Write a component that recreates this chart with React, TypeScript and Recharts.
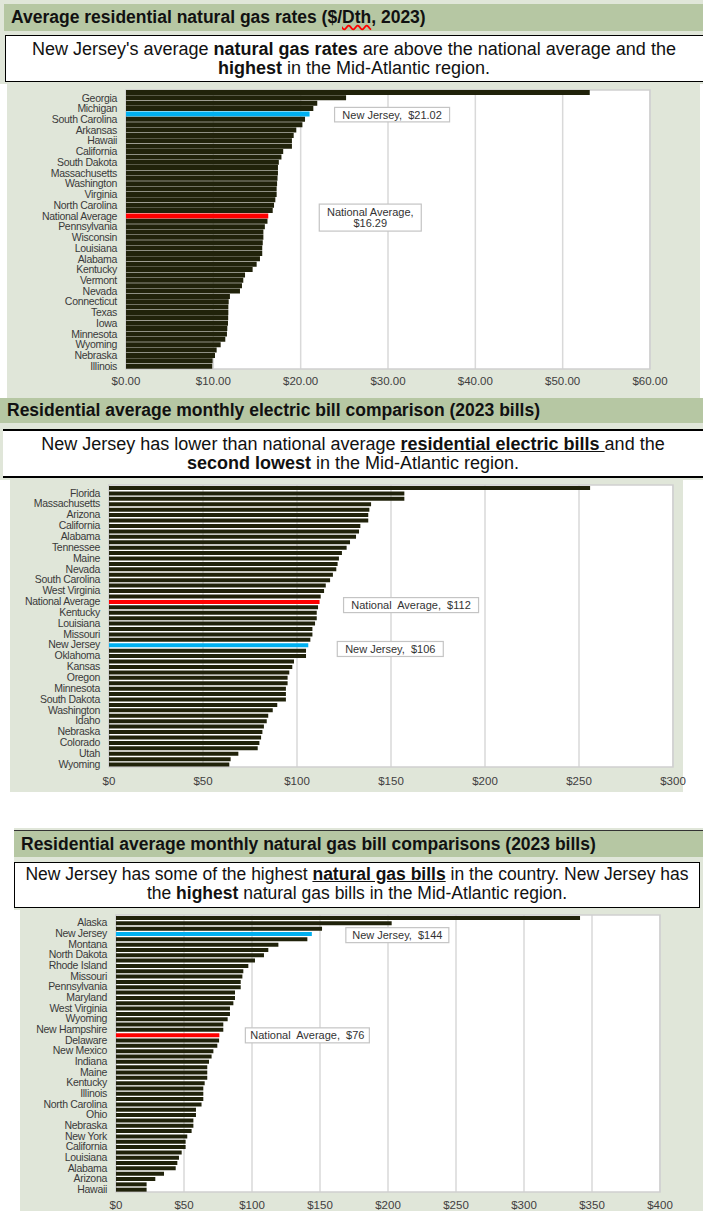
import React from 'react';
import { BarChart, Bar, XAxis, YAxis, CartesianGrid, Cell, ReferenceArea, ReferenceDot } from 'recharts';

const FONT = '"Liberation Sans", Arial, sans-serif';
const BAR = '#20220a';
const NJ_BLUE = '#00b0f0';
const AVG_RED = '#ff0000';
const HEADER = '#b6c7a3';
const PANEL = '#e0e6d9';

// Chart 1: average residential natural gas rates ($/Dth)
const gasRateStates = [
  'Florida', 'Georgia', 'Maine', 'Michigan', 'New Jersey', 'South Carolina', 'Rhode Island', 'Arkansas',
  'Delaware', 'Hawaii', 'New York', 'California', 'Maryland', 'South Dakota', 'District of Columbia',
  'Massachusetts', 'Arizona', 'Washington', 'New Hampshire', 'Virginia', 'Alaska', 'North Carolina',
  'Missouri', 'National Average', 'Tennessee', 'Pennsylvania', 'Oregon', 'Wisconsin', 'Mississippi',
  'Louisiana', 'West Virginia', 'Alabama', 'Indiana', 'Kentucky', 'New Mexico', 'Vermont', 'Ohio',
  'Nevada', 'Kansas', 'Connecticut', 'Utah', 'Texas', 'Oklahoma', 'Iowa', 'Montana', 'Minnesota',
  'Colorado', 'Wyoming', 'Idaho', 'Nebraska', 'North Dakota', 'Illinois',
];
const gasRateValues = [
  53.1, 25.2, 21.9, 21.45, 21.02, 20.5, 20.2, 19.5, 19.2, 19.0, 19.0, 18.0, 17.8, 17.5, 17.4, 17.4,
  17.35, 17.3, 17.25, 17.25, 17.1, 16.95, 16.8, 16.29, 16.2, 15.9, 15.73, 15.73, 15.66, 15.6, 15.6,
  15.34, 14.96, 14.5, 13.63, 13.43, 13.28, 13.05, 11.9, 11.76, 11.72, 11.72, 11.7, 11.68, 11.6, 11.56,
  11.37, 10.84, 10.38, 10.19, 9.92, 9.88,
];
const gasRateTicks = [0, 10, 20, 30, 40, 50, 60];

// Chart 2: residential average monthly electric bill
const elecStates = [
  'Hawaii', 'Florida', 'Connecticut', 'Massachusetts', 'Rhode Island', 'Arizona', 'New Hampshire',
  'California', 'Alaska', 'Alabama', 'Georgia', 'Tennessee', 'Texas', 'Maine', 'Mississippi', 'Nevada',
  'Maryland', 'South Carolina', 'North Carolina', 'West Virginia', 'Delaware', 'National Average',
  'Arkansas', 'Kentucky', 'Virginia', 'Louisiana', 'Pennsylvania', 'Missouri', 'Indiana', 'New Jersey',
  'Ohio', 'Oklahoma', 'Michigan', 'Kansas', 'Vermont', 'Oregon', 'North Dakota', 'Minnesota', 'Iowa',
  'South Dakota', 'Montana', 'Washington', 'Wisconsin', 'Idaho', 'Illinois', 'Nebraska',
  'District of Columbia', 'Colorado', 'New York', 'Utah', 'New Mexico', 'Wyoming',
];
const elecValues = [
  255.9, 157.1, 157.1, 139.4, 138.5, 137.9, 137.9, 133.7, 133.0, 131.4, 128.2, 126.4, 123.9, 122.3,
  121.6, 120.9, 119.1, 117.6, 115.3, 114.4, 112.6, 112, 111.2, 110.5, 110.5, 109.6, 108.2, 108.2,
  107.1, 106, 104.8, 104.8, 98.4, 97.5, 95.9, 95.0, 95.0, 94.1, 94.1, 94.1, 89.5, 87.1, 84.7, 83.9,
  82.4, 81.6, 80.9, 80.0, 79.1, 68.8, 64.7, 64.0,
];
const elecTicks = [0, 50, 100, 150, 200, 250, 300];

// Chart 3: residential average monthly natural gas bill
const gasBillStates = [
  'District of Columbia', 'Alaska', 'Massachusetts', 'New Jersey', 'Connecticut', 'Montana', 'Vermont',
  'North Dakota', 'Virginia', 'Rhode Island', 'Georgia', 'Missouri', 'Michigan', 'Pennsylvania',
  'Wisconsin', 'Maryland', 'Minnesota', 'West Virginia', 'Iowa', 'Wyoming', 'South Dakota',
  'New Hampshire', 'National Average', 'Delaware', 'Kansas', 'New Mexico', 'Colorado', 'Indiana', 'Utah',
  'Maine', 'Oregon', 'Kentucky', 'Idaho', 'Illinois', 'Washington', 'North Carolina', 'Arkansas', 'Ohio',
  'Nevada', 'Nebraska', 'Oklahoma', 'New York', 'Tennessee', 'California', 'South Carolina', 'Louisiana',
  'Mississippi', 'Alabama', 'Texas', 'Arizona', 'Florida', 'Hawaii',
];
const gasBillValues = [
  341.2, 202.7, 151.5, 144, 140.7, 119.4, 112.0, 108.8, 102.2, 97.3, 93.6, 92.9, 91.7, 91.7, 87.5,
  87.5, 86.3, 83.8, 83.8, 82.1, 78.9, 78.9, 76, 75.8, 74.5, 71.6, 70.3, 68.4, 67.1, 67.1, 67.1, 65.2,
  64.2, 64.2, 64.2, 62.9, 58.8, 58.8, 56.9, 56.9, 55.6, 52.4, 51.2, 51.2, 48.3, 46.3, 45.1, 43.9,
  35.3, 28.9, 22.5, 22.5,
];
const gasBillTicks = [0, 50, 100, 150, 200, 250, 300, 350, 400];

const Callout = ({ cx, cy, dx, dy, w, h, lines }: any) => {
  const x = cx + dx;
  const y = cy + dy - h / 2;
  return (
    <g>
      <rect x={x} y={y} width={w} height={h} fill="#fff" stroke="#c4c4c4" strokeWidth={1.2} />
      {lines.map((t: string, i: number) => (
        <text
          key={i}
          x={x + w / 2}
          y={y + h / 2 + (i - (lines.length - 1) / 2) * 11.5}
          textAnchor="middle"
          dominantBaseline="central"
          fontSize={11}
          fontFamily={FONT}
          fill="#333"
          style={{ whiteSpace: 'pre' }}
        >
          {t}
        </text>
      ))}
    </g>
  );
};

// every other state name is shown, like the source chart
const StateTick = ({ x, y, payload, index }: any) =>
  index % 2 === 1 ? (
    <text x={x} y={y} dy={3.5} textAnchor="end" fontSize={10.5} fontFamily={FONT} fill="#3a3a3a" letterSpacing={-0.3}>
      {payload.value}
    </text>
  ) : null;

const barColor = (name: string) =>
  name === 'New Jersey' ? NJ_BLUE : name === 'National Average' ? AVG_RED : BAR;

const Panel = ({ left, top, width, height, names, values, ticks, fmt, yWidth, margin, xHeight, tickGap, barSize, callouts }: any) => {
  const rows = names.map((name: string, i: number) => ({ name, value: values[i] }));
  const max = ticks[ticks.length - 1];
  return (
    <div style={{ position: 'absolute', left, top }}>
      <BarChart width={width} height={height} data={rows} layout="vertical" margin={margin}>
        <CartesianGrid horizontal={false} stroke="#d9d9d9" strokeWidth={1.5} fill="#fff" fillOpacity={1} />
        <ReferenceArea x1={0} x2={max} fill="none" stroke="#cfcfcf" strokeWidth={1.5} />
        <XAxis
          type="number"
          domain={[0, max]}
          ticks={ticks}
          tickFormatter={fmt}
          axisLine={false}
          tickLine={false}
          tickSize={0}
          tickMargin={tickGap}
          height={xHeight}
          interval={0}
          tick={{ fontSize: 11.5, fill: '#404040', fontFamily: FONT }}
        />
        <YAxis
          type="category"
          dataKey="name"
          width={yWidth}
          axisLine={false}
          tickLine={false}
          tickSize={0}
          tickMargin={9}
          interval={0}
          tick={<StateTick />}
        />
        <Bar dataKey="value" isAnimationActive={false} barSize={barSize}>
          {rows.map((r: any) => (
            <Cell key={r.name} fill={barColor(r.name)} />
          ))}
        </Bar>
        {callouts.map((c: any) => (
          <ReferenceDot
            key={c.name}
            x={values[names.indexOf(c.name)]}
            y={c.name}
            r={1}
            ifOverflow="visible"
            shape={(p: any) => <Callout cx={p.cx} cy={p.cy} {...c} />}
          />
        ))}
      </BarChart>
    </div>
  );
};

const headerStyle = (left: number, top: number, height: number): React.CSSProperties => ({
  position: 'absolute',
  left,
  top,
  width: 703 - left,
  height,
  background: HEADER,
  fontWeight: 'bold',
  fontSize: 17.5,
  lineHeight: `${height}px`,
  paddingLeft: 7,
  boxSizing: 'border-box',
  color: '#111',
  whiteSpace: 'nowrap',
});

const boxText: React.CSSProperties = {
  position: 'absolute',
  background: '#fff',
  textAlign: 'center',
  fontSize: 18,
  lineHeight: '19px',
  color: '#111',
  boxSizing: 'border-box',
  paddingTop: 4,
  whiteSpace: 'nowrap',
};

export default function App() {
  return (
    <div style={{ position: 'absolute', left: 0, top: 0, width: 703, height: 1211, overflow: 'hidden', background: '#fff', fontFamily: FONT }}>
      {/* panel 1 */}
      <div style={{ position: 'absolute', left: 0, top: 0, width: 703, height: 84, background: PANEL }} />
      <div style={headerStyle(4, 4, 27)}>
        Average residential natural gas rates ($/<span style={{ textDecoration: 'underline wavy red' }}>Dth</span>, 2023)
      </div>
      <div style={{ ...boxText, left: 5, top: 35, width: 710, height: 47, border: '1.5px solid #000', paddingRight: 12 }}>
        New Jersey's average <b>natural gas rates</b> are above the national average and the
        <br />
        <b>highest</b> in the Mid-Atlantic region.
      </div>
      <div style={{ position: 'absolute', left: 7, top: 84, width: 693, height: 314, background: PANEL }} />
      <Panel
        left={7}
        top={84}
        width={693}
        height={314}
        names={gasRateStates}
        values={gasRateValues}
        ticks={gasRateTicks}
        fmt={(v: number) => `$${v.toFixed(2)}`}
        yWidth={119}
        margin={{ top: 6, right: 50, left: 0, bottom: 0 }}
        xHeight={29}
        tickGap={8}
        barSize={5}
        callouts={[
          { name: 'New Jersey', dx: 25, dy: 0.5, w: 115, h: 14.5, lines: ['New Jersey,  $21.02'] },
          { name: 'National Average', dx: 51, dy: 1.5, w: 102, h: 27, lines: ['National Average,', '$16.29'] },
        ]}
      />

      {/* panel 2 */}
      <div style={{ position: 'absolute', left: 0, top: 398, width: 703, height: 82, background: PANEL }} />
      <div style={headerStyle(0, 398, 25)}>Residential average monthly electric bill comparison (2023 bills)</div>
      <div style={{ ...boxText, left: 3, top: 429, width: 700, height: 49, borderTop: '2px solid #000', borderBottom: '2px solid #000' }}>
        New Jersey has lower than national average <b><u>residential electric bills </u></b> and the
        <br />
        <b>second lowest</b> in the Mid-Atlantic region.
      </div>
      <div style={{ position: 'absolute', left: 10, top: 478, width: 673, height: 314, background: PANEL }} />
      <Panel
        left={10}
        top={478}
        width={693}
        height={314}
        names={elecStates}
        values={elecValues}
        ticks={elecTicks}
        fmt={(v: number) => `$${v}`}
        yWidth={99}
        margin={{ top: 7, right: 30, left: 0, bottom: 0 }}
        xHeight={25}
        tickGap={10}
        barSize={4}
        callouts={[
          { name: 'National Average', dx: 24, dy: 3.5, w: 135, h: 15, lines: ['National  Average,  $112'] },
          { name: 'New Jersey', dx: 29, dy: 4, w: 106, h: 15, lines: ['New Jersey,  $106'] },
        ]}
      />

      {/* panel 3 */}
      <div style={{ position: 'absolute', left: 14, top: 828, width: 689, height: 82, background: PANEL }} />
      <div style={{ ...headerStyle(14, 830, 27), borderTop: '1.5px solid #333' }}>
        Residential average monthly natural gas bill comparisons (2023 bills)
      </div>
      <div style={{ ...boxText, left: 14, top: 862, width: 686, height: 46, border: '1.5px solid #000', paddingTop: 2, fontSize: 17.5 }}>
        New Jersey has some of the highest <b><u>natural gas bills</u></b> in the country. New Jersey has
        <br />
        the <b>highest</b> natural gas bills in the Mid-Atlantic region.
      </div>
      <div style={{ position: 'absolute', left: 20, top: 908, width: 683, height: 303, background: PANEL }} />
      <Panel
        left={20}
        top={910}
        width={683}
        height={301}
        names={gasBillStates}
        values={gasBillValues}
        ticks={gasBillTicks}
        fmt={(v: number) => `$${v}`}
        yWidth={96}
        margin={{ top: 5, right: 43, left: 0, bottom: 0 }}
        xHeight={19}
        tickGap={9}
        barSize={4}
        callouts={[
          { name: 'New Jersey', dx: 34, dy: 1.5, w: 103, h: 15, lines: ['New Jersey,  $144'] },
          { name: 'National Average', dx: 26, dy: 0.5, w: 124, h: 15, lines: ['National  Average,  $76'] },
        ]}
      />
    </div>
  );
}
